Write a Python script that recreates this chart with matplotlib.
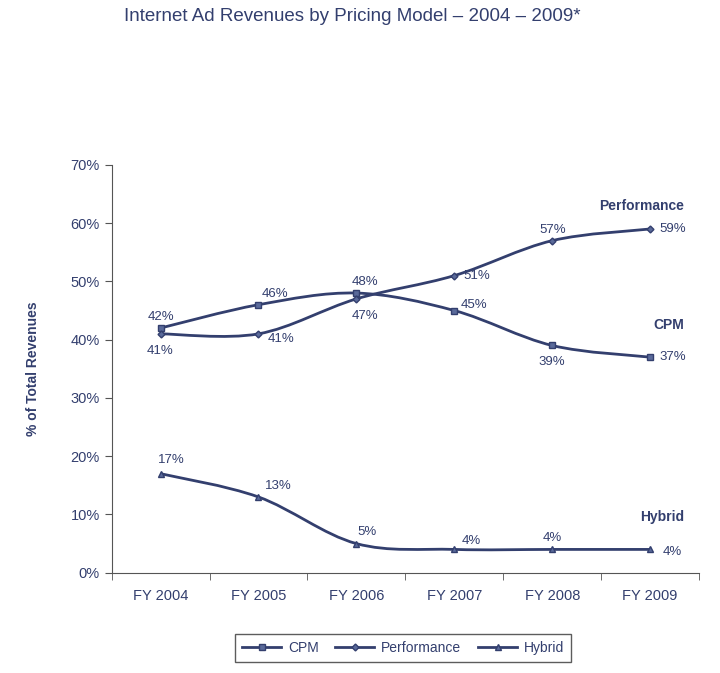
import matplotlib
matplotlib.use("Agg")
import matplotlib.pyplot as plt
import numpy as np
from matplotlib.path import Path
from matplotlib.patches import PathPatch
from matplotlib.lines import Line2D

years = ["FY 2004", "FY 2005", "FY 2006", "FY 2007", "FY 2008", "FY 2009"]
cpm = [42, 46, 48, 45, 39, 37]
performance = [41, 41, 47, 51, 57, 59]
hybrid = [17, 13, 5, 4, 4, 4]

NAVY = "#333F6E"
plt.rcParams['font.family'] = ['Liberation Sans', 'DejaVu Sans']

fig = plt.figure(figsize=(7.2, 6.73), dpi=100)
ax = fig.add_axes([0.155, 0.149, 0.816, 0.606])


def smooth_path(xs, ys):
    # Catmull-Rom style bezier, like Excel's smoothed lines
    pts = np.column_stack([xs, ys]).astype(float)
    verts = [pts[0]]
    codes = [Path.MOVETO]
    n = len(pts)
    for i in range(n - 1):
        p0 = pts[max(i - 1, 0)]
        p1, p2 = pts[i], pts[i + 1]
        p3 = pts[min(i + 2, n - 1)]
        c1 = p1 + (p2 - p0) / 6.0
        c2 = p2 - (p3 - p1) / 6.0
        verts += [c1, c2, p2]
        codes += [Path.CURVE4] * 3
    return Path(verts, codes)


x = np.arange(len(years))
series = [("CPM", cpm, "s", 5), ("Performance", performance, "D", 3.5), ("Hybrid", hybrid, "^", 4.5)]
for name, vals, mk, ms in series:
    ax.add_patch(PathPatch(smooth_path(x, vals), fill=False, edgecolor=NAVY, lw=2))
    ax.plot(x, vals, ls="none", marker=mk, ms=ms, color=NAVY, mfc="#5A6A9A", mec=NAVY)

# value labels (offset in points)
cpm_off = [(0, 8), (12, 8), (6, 8), (14, 4), (0, -12), (16, 0)]
perf_off = [(0, -12), (16, -4), (6, -12), (16, 0), (0, 8), (16, 0)]
hyb_off = [(8, 10), (14, 8), (8, 8), (12, 6), (0, 8), (16, -2)]
for vals, offs in [(cpm, cpm_off), (performance, perf_off), (hybrid, hyb_off)]:
    for xi, v, o in zip(x, vals, offs):
        ax.annotate(f"{v}%", (xi, v), xytext=o, textcoords="offset points",
                    ha="center", va="center", fontsize=9.5, color=NAVY)

for name, yv in [("Performance", 63), ("CPM", 42.5), ("Hybrid", 9.5)]:
    ax.text(5.35, yv, name, ha="right", va="center", fontsize=10,
            fontweight="bold", color=NAVY)

ax.set_xlim(-0.5, 5.5)
ax.set_ylim(0, 70)
ax.set_yticks(range(0, 71, 10))
ax.set_yticklabels([f"{v}%" for v in range(0, 71, 10)])
ax.set_xticks(x)
ax.set_xticklabels(years)
ax.set_xticks(np.arange(-0.5, 6, 1), minor=True)
ax.tick_params(axis="x", which="major", length=0, pad=12, labelsize=10.5, colors=NAVY)
ax.tick_params(axis="x", which="minor", length=5, color="#555555")
ax.tick_params(axis="y", length=5, labelsize=10.5, colors=NAVY, color="#555555")
for s in ["top", "right"]:
    ax.spines[s].set_visible(False)
for s in ["left", "bottom"]:
    ax.spines[s].set_color("#555555")
ax.set_ylabel("% of Total Revenues", fontsize=10, fontweight="bold", color=NAVY, labelpad=22)

fig.text(0.49, 0.975, "Internet Ad Revenues by Pricing Model \u2013 2004 \u2013 2009*",
         ha="center", va="center", fontsize=13.5, color=NAVY)

handles = [Line2D([], [], color=NAVY, lw=2, marker=mk, ms=ms, mfc="#5A6A9A", mec=NAVY)
           for _, _, mk, ms in series]
leg = fig.legend(handles, [s[0] for s in series], loc="center", ncol=3,
                 bbox_to_anchor=(0.56, 0.037), frameon=True, fancybox=False,
                 fontsize=10, handlelength=2.8, handletextpad=0.5, columnspacing=1.2, borderpad=0.5)
leg.get_frame().set_edgecolor("#333333")
for t in leg.get_texts():
    t.set_color(NAVY)

fig.savefig("out.png", dpi=100)
